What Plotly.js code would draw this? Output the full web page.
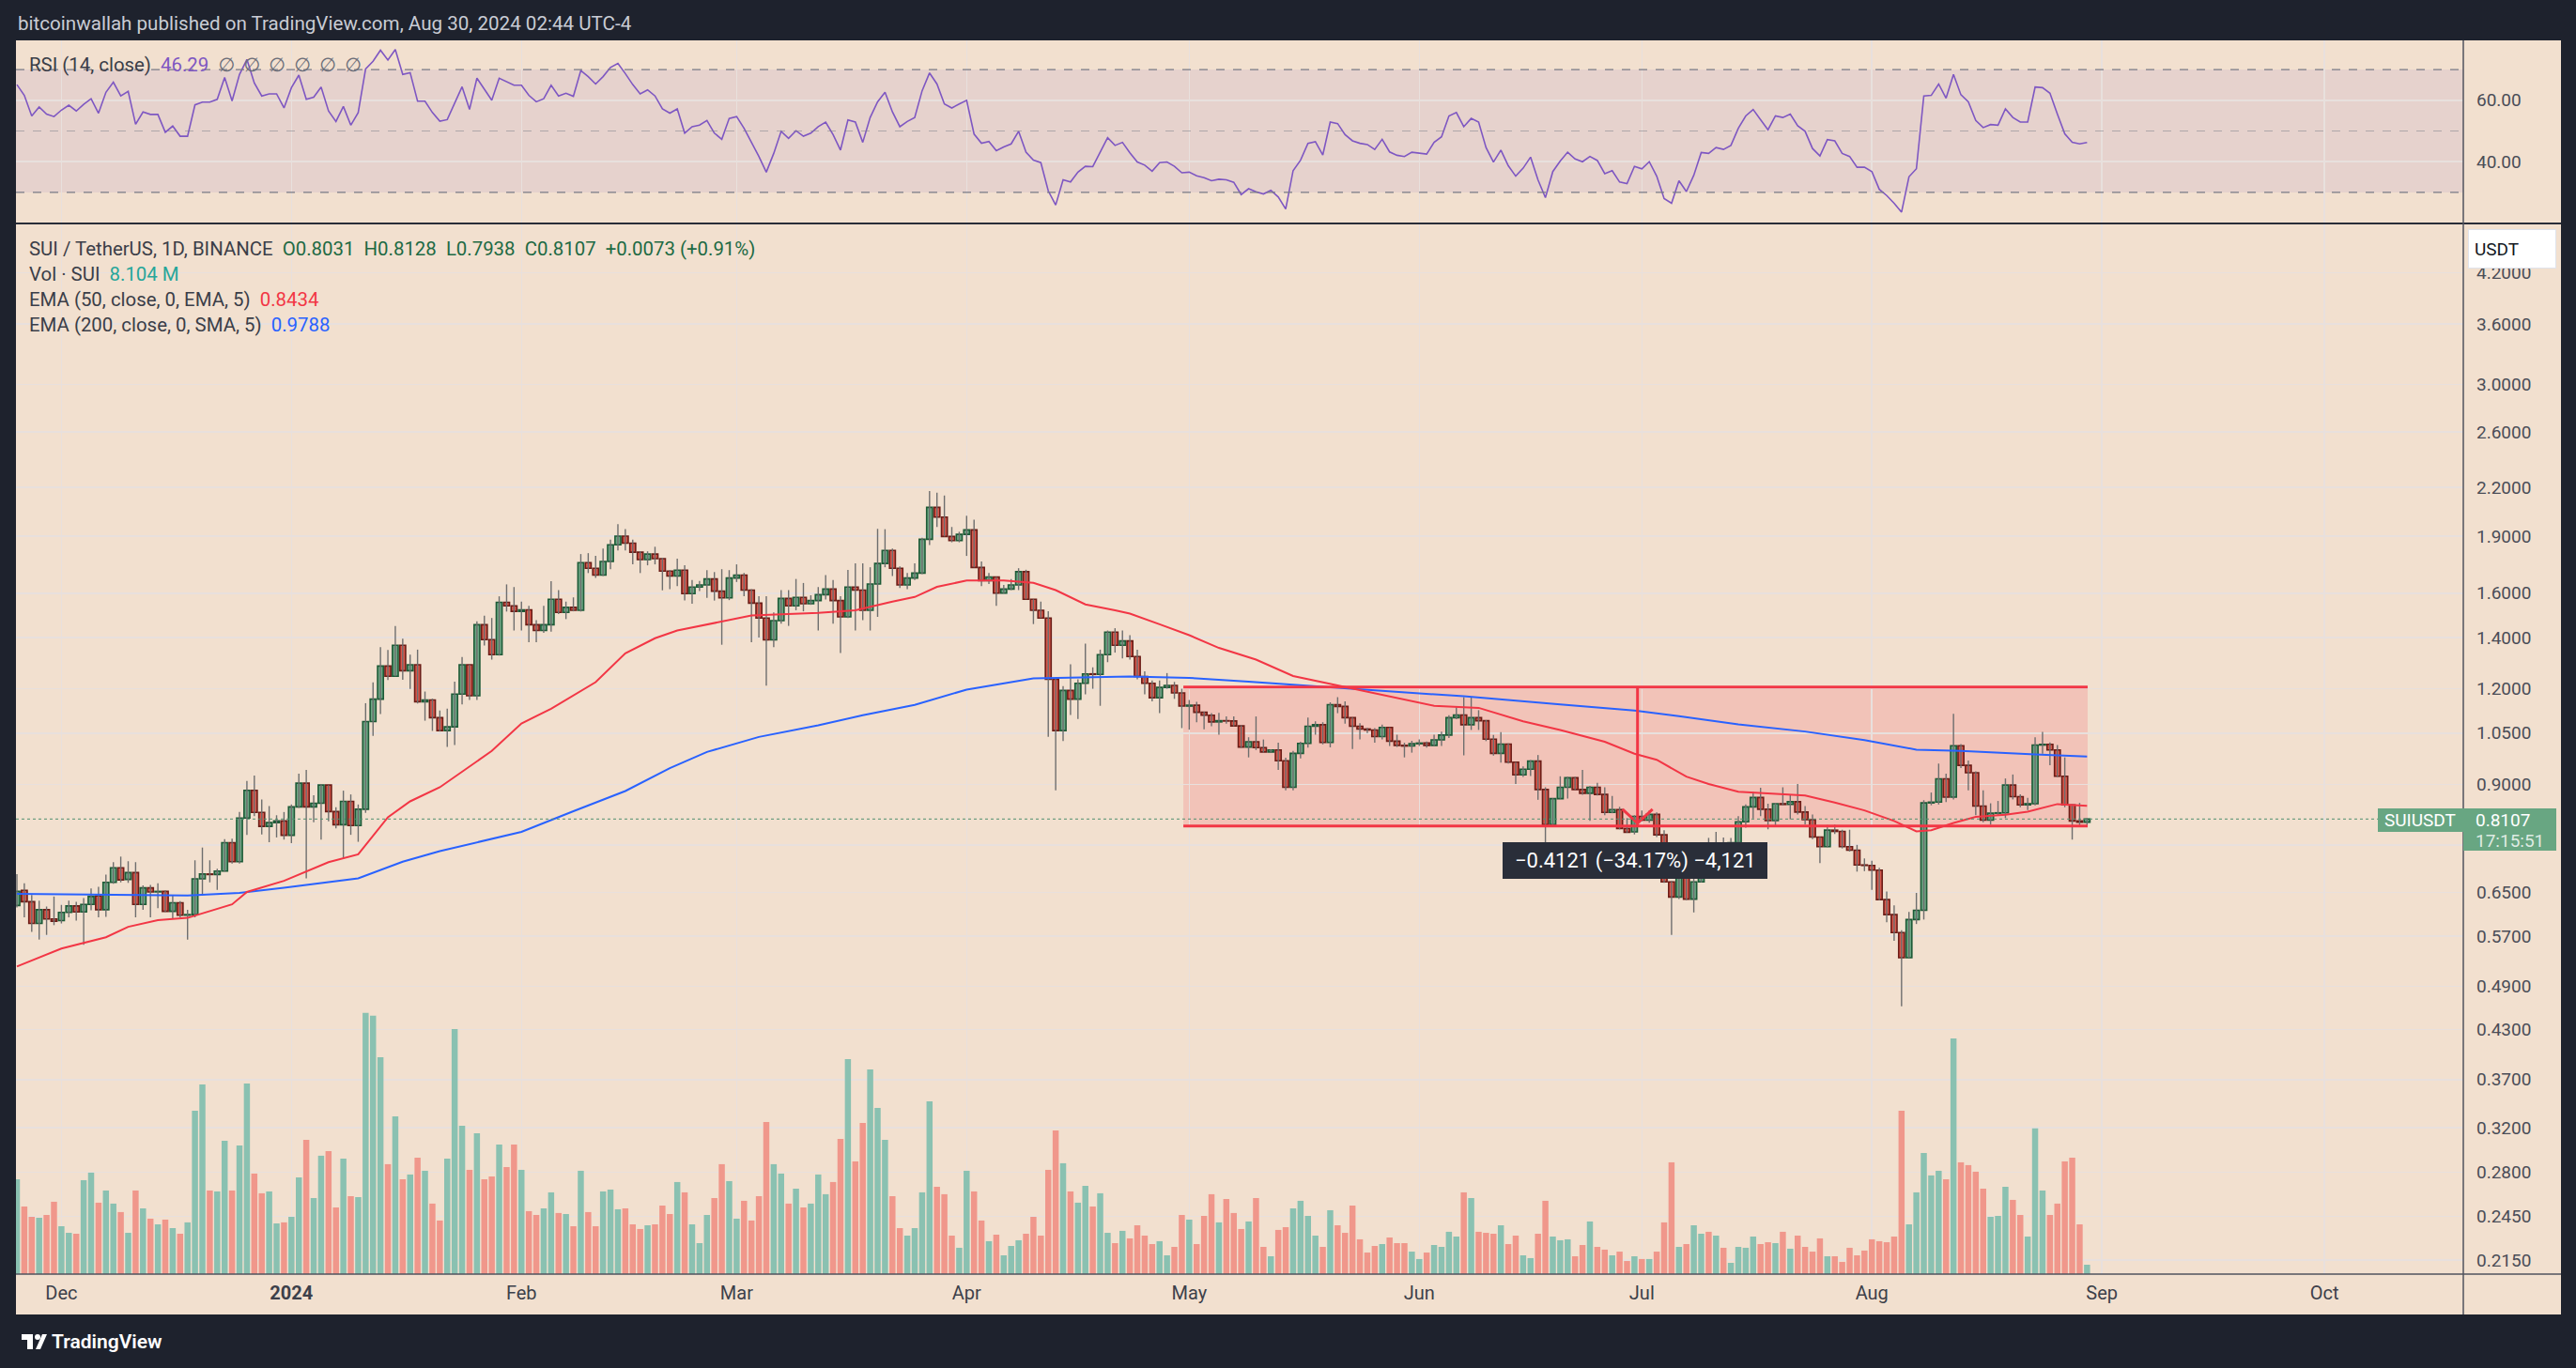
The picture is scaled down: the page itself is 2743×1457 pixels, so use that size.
<!DOCTYPE html>
<html>
<head>
<meta charset="utf-8">
<script src="https://cdn.plot.ly/plotly-3.0.1.min.js"></script>
<style>
  html, body { margin: 0; padding: 0; background: #1e222d; }
  #chart { width: 2743px; height: 1457px; }
</style>
</head>
<body>
<div id="chart"></div>
<script>
// SUI / TetherUS daily candles, 25 Nov 2023 -> 30 Aug 2024
const firstDay = '2023-11-25';

const openP = [
  0.625,0.654,0.632,0.592,0.617,0.600,0.597,0.612,0.624,0.613,
  0.627,0.643,0.617,0.670,0.700,0.676,0.690,0.627,0.659,0.651,
  0.652,0.614,0.630,0.607,0.608,0.677,0.687,0.686,0.693,0.755,
  0.713,0.813,0.884,0.827,0.793,0.802,0.806,0.772,0.841,0.903,
  0.841,0.850,0.898,0.829,0.797,0.855,0.795,0.835,1.087,1.163,
  1.285,1.246,1.368,1.267,1.290,1.154,1.160,1.100,1.058,1.070,
  1.181,1.290,1.175,1.455,1.391,1.330,1.557,1.540,1.515,1.522,
  1.455,1.430,1.455,1.571,1.510,1.533,1.520,1.754,1.725,1.690,
  1.760,1.851,1.900,1.860,1.810,1.770,1.800,1.775,1.710,1.685,
  1.715,1.598,1.630,1.640,1.670,1.610,1.578,1.675,1.690,1.615,
  1.553,1.485,1.390,1.473,1.575,1.540,1.580,1.550,1.565,1.593,
  1.620,1.565,1.490,1.630,1.615,1.520,1.645,1.750,1.820,1.725,
  1.640,1.675,1.700,1.882,2.072,2.012,1.898,1.875,1.910,1.936,
  1.729,1.662,1.680,1.600,1.620,1.640,1.707,1.571,1.520,1.485,
  1.235,1.058,1.194,1.163,1.220,1.255,1.253,1.330,1.423,1.368,
  1.386,1.322,1.245,1.220,1.168,1.205,1.212,1.185,1.139,1.142,
  1.118,1.108,1.086,1.090,1.089,1.073,1.007,1.023,1.005,0.992,
  0.998,0.966,0.892,0.988,1.018,1.072,1.077,1.021,1.144,1.138,
  1.100,1.072,1.063,1.060,1.039,1.068,1.025,1.012,1.010,1.017,
  1.019,1.012,1.029,1.044,1.100,1.109,1.077,1.100,1.090,1.031,
  0.988,1.016,0.962,0.926,0.942,0.965,0.886,0.797,0.862,0.892,
  0.918,0.886,0.876,0.892,0.873,0.827,0.834,0.788,0.780,0.817,
  0.808,0.822,0.773,0.671,0.641,0.692,0.637,0.671,0.741,0.737,
  0.753,0.745,0.755,0.804,0.841,0.865,0.835,0.807,0.849,0.847,
  0.854,0.828,0.809,0.768,0.746,0.784,0.781,0.746,0.738,0.706,
  0.705,0.695,0.636,0.608,0.576,0.534,0.599,0.616,0.851,0.853,
  0.915,0.866,1.011,0.953,0.932,0.843,0.808,0.825,0.826,0.898,
  0.867,0.846,0.849,1.013,1.015,0.998,0.922,0.846,0.806,0.8031
];
const highP = [
  0.687,0.668,0.645,0.634,0.623,0.642,0.626,0.634,0.632,0.639,
  0.658,0.661,0.686,0.712,0.724,0.714,0.712,0.664,0.665,0.668,
  0.654,0.645,0.633,0.617,0.716,0.744,0.716,0.698,0.763,0.764,
  0.828,0.909,0.924,0.860,0.843,0.820,0.828,0.847,0.929,0.940,
  0.871,0.900,0.898,0.840,0.883,0.873,0.847,1.149,1.223,1.360,
  1.349,1.449,1.395,1.330,1.350,1.190,1.165,1.124,1.130,1.226,
  1.320,1.290,1.470,1.495,1.485,1.585,1.643,1.630,1.560,1.540,
  1.475,1.540,1.659,1.615,1.560,1.580,1.800,1.805,1.790,1.830,
  1.880,1.969,1.940,1.880,1.815,1.815,1.840,1.780,1.715,1.775,
  1.740,1.665,1.660,1.715,1.705,1.720,1.715,1.745,1.700,1.620,
  1.585,1.586,1.510,1.615,1.615,1.670,1.650,1.590,1.630,1.690,
  1.665,1.585,1.716,1.750,1.750,1.730,1.942,1.940,1.830,1.735,
  1.700,1.750,1.890,2.176,2.165,2.147,1.953,1.925,2.020,1.997,
  1.760,1.700,1.680,1.640,1.670,1.725,1.717,1.571,1.560,1.515,
  1.240,1.210,1.292,1.235,1.375,1.280,1.350,1.430,1.440,1.430,
  1.410,1.350,1.265,1.230,1.230,1.258,1.225,1.200,1.160,1.154,
  1.120,1.115,1.116,1.104,1.104,1.075,1.037,1.104,1.030,1.000,
  1.020,0.975,0.995,1.023,1.100,1.088,1.085,1.152,1.170,1.155,
  1.100,1.082,1.067,1.066,1.077,1.068,1.045,1.020,1.026,1.030,
  1.024,1.045,1.055,1.108,1.135,1.170,1.170,1.125,1.092,1.044,
  1.053,1.018,0.962,0.950,0.968,0.983,0.892,0.863,0.922,0.921,
  0.921,0.940,0.896,0.904,0.892,0.869,0.841,0.813,0.820,0.832,
  0.832,0.827,0.784,0.673,0.700,0.694,0.690,0.753,0.766,0.780,
  0.767,0.766,0.818,0.847,0.880,0.891,0.849,0.851,0.892,0.871,
  0.901,0.843,0.822,0.768,0.796,0.797,0.785,0.785,0.750,0.720,
  0.715,0.700,0.652,0.625,0.580,0.613,0.649,0.858,0.878,0.958,
  0.929,1.113,1.016,0.967,0.936,0.884,0.850,0.856,0.916,0.927,
  0.873,0.864,1.037,1.054,1.021,1.013,0.976,0.848,0.851,0.8128
];
const lowP = [
  0.621,0.603,0.577,0.564,0.572,0.589,0.592,0.603,0.597,0.555,
  0.616,0.603,0.604,0.667,0.670,0.669,0.603,0.617,0.603,0.620,
  0.613,0.600,0.603,0.564,0.603,0.645,0.670,0.655,0.692,0.709,
  0.709,0.773,0.818,0.774,0.756,0.767,0.762,0.754,0.838,0.678,
  0.803,0.762,0.805,0.788,0.719,0.773,0.757,0.826,1.041,1.112,
  1.232,1.246,1.233,1.199,1.148,1.090,1.057,1.055,1.007,1.013,
  1.145,1.160,1.160,1.367,1.310,1.326,1.514,1.430,1.430,1.380,
  1.380,1.420,1.425,1.503,1.480,1.515,1.514,1.700,1.675,1.685,
  1.720,1.820,1.820,1.745,1.700,1.740,1.745,1.614,1.620,1.635,
  1.565,1.550,1.610,1.578,1.565,1.370,1.567,1.655,1.585,1.380,
  1.400,1.211,1.360,1.460,1.450,1.520,1.515,1.545,1.430,1.570,
  1.460,1.336,1.485,1.430,1.475,1.430,1.490,1.730,1.685,1.625,
  1.620,1.665,1.695,1.850,1.953,1.898,1.865,1.865,1.790,1.729,
  1.635,1.645,1.540,1.600,1.615,1.615,1.571,1.458,1.485,1.038,
  0.884,1.025,1.109,1.096,1.180,1.200,1.140,1.300,1.338,1.315,
  1.310,1.235,1.180,1.155,1.115,1.200,1.164,1.066,1.061,1.085,
  1.062,1.072,1.045,1.080,1.072,1.004,0.976,0.998,0.990,0.990,
  0.940,0.884,0.884,0.973,1.005,1.045,1.015,1.006,1.115,1.080,
  1.001,1.030,1.050,1.020,1.030,1.010,1.007,0.976,0.990,1.010,
  1.005,1.010,1.010,1.035,1.095,0.982,1.060,1.060,1.025,0.981,
  0.961,0.958,0.901,0.920,0.923,0.859,0.753,0.794,0.862,0.862,
  0.885,0.872,0.806,0.870,0.820,0.825,0.786,0.778,0.774,0.805,
  0.802,0.768,0.669,0.572,0.637,0.635,0.612,0.670,0.735,0.735,
  0.735,0.744,0.755,0.790,0.812,0.818,0.786,0.795,0.845,0.810,
  0.822,0.798,0.763,0.710,0.745,0.775,0.742,0.735,0.692,0.693,
  0.655,0.635,0.594,0.562,0.4615,0.534,0.591,0.599,0.845,0.847,
  0.853,0.860,0.945,0.884,0.820,0.803,0.797,0.820,0.813,0.860,
  0.840,0.833,0.845,0.987,0.953,0.920,0.840,0.762,0.792,0.7938
];
const closeP = [
  0.652,0.632,0.592,0.617,0.600,0.596,0.612,0.624,0.613,0.627,
  0.642,0.617,0.670,0.700,0.675,0.690,0.627,0.659,0.651,0.652,
  0.614,0.630,0.607,0.608,0.677,0.687,0.686,0.693,0.755,0.713,
  0.813,0.884,0.827,0.793,0.802,0.806,0.772,0.841,0.903,0.841,
  0.850,0.898,0.829,0.797,0.855,0.795,0.835,1.087,1.163,1.285,
  1.246,1.368,1.267,1.290,1.154,1.160,1.100,1.058,1.070,1.181,
  1.290,1.175,1.455,1.391,1.330,1.557,1.540,1.515,1.522,1.455,
  1.430,1.455,1.571,1.510,1.533,1.520,1.754,1.725,1.690,1.760,
  1.851,1.900,1.860,1.810,1.770,1.800,1.775,1.710,1.685,1.715,
  1.598,1.630,1.640,1.670,1.610,1.578,1.675,1.690,1.615,1.553,
  1.485,1.390,1.473,1.575,1.540,1.580,1.550,1.565,1.593,1.620,
  1.565,1.490,1.630,1.615,1.520,1.645,1.750,1.820,1.725,1.640,
  1.675,1.700,1.882,2.072,2.012,1.898,1.875,1.910,1.936,1.729,
  1.662,1.680,1.600,1.620,1.640,1.707,1.571,1.520,1.485,1.235,
  1.058,1.194,1.163,1.220,1.255,1.253,1.330,1.423,1.368,1.386,
  1.322,1.245,1.220,1.168,1.205,1.212,1.185,1.139,1.142,1.118,
  1.108,1.086,1.090,1.089,1.073,1.007,1.023,1.005,0.992,0.998,
  0.966,0.892,0.988,1.018,1.072,1.077,1.021,1.144,1.138,1.100,
  1.072,1.063,1.060,1.039,1.068,1.025,1.012,1.010,1.017,1.019,
  1.012,1.029,1.044,1.100,1.109,1.077,1.100,1.090,1.031,0.988,
  1.016,0.962,0.926,0.942,0.965,0.886,0.797,0.862,0.892,0.918,
  0.886,0.876,0.892,0.873,0.827,0.834,0.788,0.779,0.817,0.808,
  0.822,0.773,0.671,0.641,0.692,0.637,0.671,0.741,0.737,0.753,
  0.745,0.755,0.804,0.841,0.865,0.835,0.807,0.849,0.847,0.854,
  0.828,0.809,0.768,0.746,0.784,0.781,0.746,0.738,0.706,0.705,
  0.695,0.636,0.608,0.576,0.534,0.599,0.616,0.851,0.853,0.915,
  0.866,1.011,0.953,0.932,0.843,0.808,0.825,0.826,0.898,0.867,
  0.846,0.849,1.013,1.015,0.998,0.922,0.846,0.806,0.803,0.8107
];
// volume, millions of SUI
const volume = [
  81.8,58.3,49.4,48.6,51.0,62.4,41.3,35.6,34.8,81.0,
  87.5,61.6,72.1,60.8,53.5,35.6,72.1,56.7,47.8,42.9,
  47.0,39.7,34.8,44.6,140.9,163.6,72.1,71.3,115.0,72.1,
  111.0,164.4,86.7,69.7,71.3,43.7,44.6,49.4,83.4,115.8,
  65.6,102.1,106.1,57.5,99.6,67.2,66.4,225.2,222.8,187.1,
  94.8,136.1,81.8,85.9,100.4,89.1,60.8,46.2,99.6,211.4,
  128.0,89.9,121.5,81.8,84.2,111.8,92.3,111.8,89.9,54.3,
  51.0,56.7,70.5,52.7,51.8,41.3,89.1,53.5,41.3,71.3,
  72.9,55.9,56.7,42.9,38.9,42.1,42.9,59.1,51.8,79.4,
  70.5,42.9,26.7,51.0,65.6,94.8,80.2,47.8,63.2,46.2,
  67.2,131.2,94.8,86.7,60.8,73.7,57.5,60.8,85.9,68.9,
  79.4,116.6,185.5,97.2,130.4,176.6,143.4,115.8,67.2,39.7,
  33.2,39.7,70.5,149.0,75.3,68.9,33.2,22.7,89.1,71.3,
  46.2,28.4,34.0,16.2,24.3,29.2,34.8,49.4,33.2,89.9,
  123.9,95.6,71.3,61.6,76.1,58.3,69.7,35.6,26.7,37.3,
  30.8,42.1,33.2,25.9,28.4,16.2,23.5,51.0,47.0,25.9,
  50.2,68.9,44.6,64.8,52.7,38.9,45.4,65.6,23.5,15.4,
  38.1,40.5,56.7,63.2,50.2,33.2,23.5,55.1,42.1,35.6,
  59.1,30.0,18.6,24.3,25.9,31.6,26.7,26.7,19.4,13.0,
  18.6,25.1,23.5,36.5,32.4,70.5,65.6,36.5,35.6,34.8,
  42.1,25.9,33.2,16.2,13.8,34.8,63.2,32.4,29.2,30.0,
  15.4,25.1,45.4,23.5,21.1,16.2,19.4,11.3,15.4,13.0,
  13.0,19.4,44.6,96.4,23.5,25.9,42.1,34.8,36.5,33.2,
  22.7,9.7,23.5,22.7,32.4,25.9,27.5,26.7,36.5,21.9,
  33.2,23.5,19.4,30.8,15.4,15.4,10.5,22.7,16.2,20.3,
  30.0,28.4,27.5,32.4,140.9,42.9,70.5,104.5,85.1,89.1,
  81.8,203.3,96.4,94.0,88.3,73.7,49.4,50.2,75.3,64.0,
  51.0,32.4,125.6,72.1,51.0,60.8,97.2,100.4,42.9,8.1
];
// RSI (14, close)
const rsi = [
  65.1,61.6,54.9,57.8,55.5,54.7,56.8,58.4,56.5,58.7,
  60.5,55.8,62.6,65.9,61.4,62.9,52.2,56.2,55.4,55.4,
  49.6,51.6,48.3,48.3,58.5,59.4,59.4,60.3,67.4,59.8,
  68.4,73.3,65.6,61.4,62.1,62.1,57.5,64.1,68.2,60.3,
  61.0,64.3,56.5,53.1,58.0,51.9,56.0,70.2,72.7,76.3,
  73.1,76.5,68.4,69.0,59.7,59.7,56.0,53.2,53.7,59.2,
  64.4,57.0,67.2,63.6,60.0,67.2,66.1,64.9,64.9,61.6,
  59.5,60.5,64.9,61.4,62.3,61.3,69.7,67.7,65.3,67.7,
  70.7,72.0,68.7,65.1,62.1,63.4,61.4,57.2,55.8,57.2,
  49.3,51.4,51.9,53.4,49.3,47.3,54.1,54.7,50.9,46.3,
  41.7,36.6,42.7,49.9,47.6,50.1,48.3,49.3,51.4,52.9,
  48.8,43.8,53.6,52.9,46.3,54.4,59.5,62.6,56.2,51.4,
  53.1,54.4,63.1,68.9,65.3,58.8,57.5,58.8,60.0,49.0,
  46.0,46.6,43.6,44.8,45.8,49.9,43.1,40.5,39.7,30.5,
  25.9,34.1,33.4,36.6,38.5,38.4,42.9,47.8,45.3,46.3,
  42.9,39.9,38.9,36.9,39.7,39.9,38.5,36.4,36.6,35.4,
  34.8,33.8,34.3,34.1,33.3,29.3,31.2,30.2,29.5,30.7,
  28.5,24.6,37.1,40.5,46.0,46.5,42.2,52.9,52.4,48.8,
  46.8,46.0,45.6,44.0,47.3,43.2,42.1,41.7,43.1,42.9,
  42.5,46.3,48.1,54.9,56.0,51.4,54.1,52.9,44.6,39.9,
  43.8,38.7,35.3,37.9,41.5,34.1,28.3,36.8,40.2,43.1,
  40.9,40.0,41.7,40.4,36.1,37.1,33.4,32.9,38.5,37.7,
  40.0,35.3,28.0,26.5,33.8,30.3,35.6,43.0,42.7,44.6,
  44.0,45.3,50.9,54.9,57.0,53.7,50.4,54.9,54.4,55.5,
  51.7,49.9,44.3,41.9,47.2,46.8,42.7,41.7,38.2,38.2,
  36.8,31.0,29.0,26.5,23.6,35.1,37.7,61.4,61.6,65.3,
  60.7,68.4,61.8,59.5,53.4,51.1,52.1,51.9,57.2,54.4,
  52.9,52.9,64.3,64.1,62.3,55.5,49.1,46.3,45.8,46.29
];

// EMA 50 (red), read at intervals along the line
const ema50Dates = ['2023-11-25','2023-12-01','2023-12-07','2023-12-10','2023-12-14','2023-12-18','2023-12-24','2023-12-26','2023-12-31','2024-01-03','2024-01-06','2024-01-10','2024-01-12','2024-01-14','2024-01-17','2024-01-21','2024-01-28','2024-02-01','2024-02-05','2024-02-08','2024-02-11','2024-02-15','2024-02-19','2024-02-22','2024-02-28','2024-03-03','2024-03-12','2024-03-17','2024-03-22','2024-03-25','2024-03-28','2024-04-01','2024-04-06','2024-04-10','2024-04-13','2024-04-17','2024-04-21','2024-04-23','2024-04-27','2024-05-01','2024-05-05','2024-05-10','2024-05-15','2024-05-19','2024-05-25','2024-06-03','2024-06-09','2024-06-15','2024-06-20','2024-06-26','2024-06-30','2024-07-03','2024-07-07','2024-07-10','2024-07-14','2024-07-19','2024-07-23','2024-07-27','2024-07-31','2024-08-04','2024-08-07','2024-08-09','2024-08-12','2024-08-15','2024-08-19','2024-08-22','2024-08-26','2024-08-30'];
const ema50Vals = [0.520,0.549,0.568,0.586,0.598,0.602,0.627,0.651,0.673,0.692,0.712,0.729,0.771,0.815,0.855,0.892,0.995,1.081,1.130,1.176,1.224,1.335,1.397,1.430,1.470,1.496,1.508,1.520,1.560,1.582,1.631,1.662,1.662,1.651,1.615,1.547,1.520,1.505,1.457,1.410,1.357,1.310,1.247,1.224,1.190,1.140,1.133,1.088,1.060,1.023,0.987,0.969,0.921,0.901,0.880,0.874,0.870,0.852,0.832,0.806,0.781,0.784,0.801,0.816,0.821,0.829,0.848,0.8434];

// EMA 200 (blue)
const ema200Dates = ['2023-11-25','2023-12-18','2023-12-25','2023-12-31','2024-01-10','2024-01-16','2024-01-21','2024-02-01','2024-02-08','2024-02-15','2024-02-21','2024-02-26','2024-03-04','2024-03-12','2024-03-18','2024-03-25','2024-04-01','2024-04-10','2024-04-23','2024-05-01','2024-05-09','2024-05-23','2024-06-07','2024-06-20','2024-06-30','2024-07-06','2024-07-14','2024-07-23','2024-07-31','2024-08-07','2024-08-13','2024-08-23','2024-08-30'];
const ema200Vals = [0.647,0.644,0.649,0.659,0.678,0.713,0.736,0.780,0.830,0.882,0.945,0.992,1.038,1.075,1.108,1.143,1.197,1.238,1.245,1.240,1.226,1.199,1.173,1.145,1.124,1.105,1.078,1.055,1.028,0.999,0.995,0.985,0.9788];

const priceTicks = [0.215,0.245,0.28,0.32,0.37,0.43,0.49,0.57,0.65,0.75,0.9,1.05,1.2,1.4,1.6,1.9,2.2,2.6,3.0,3.6,4.2];
const monthTicks = ['2023-12-01','2024-01-01','2024-02-01','2024-03-01','2024-04-01','2024-05-01','2024-06-01','2024-07-01','2024-08-01','2024-09-01','2024-10-01'];
const monthLabels = ['Dec','<b>2024</b>','Feb','Mar','Apr','May','Jun','Jul','Aug','Sep','Oct'];

// measure tool drawn on the chart
const boxTop = 1.2058, boxBottom = 0.7937, lastPrice = 0.8107;

// ---- helpers: page pixels -> paper coords (plot box is x 17..2623, y 43..1357)
function px(x) { return (x - 17) / 2606; }
function py(y) { return (1357 - y) / 1314; }
const lg = Math.log10;

const dates = [];
const t0 = Date.parse(firstDay + 'T00:00:00Z');
for (let i = 0; i < openP.length; i++) {
  dates.push(new Date(t0 + i * 864e5).toISOString().slice(0, 10));
}

const up = closeP.map((c, i) => c >= openP[i]);
const wickX = [], wickY = [];
dates.forEach((d, i) => { wickX.push(d, d, null); wickY.push(lowP[i], highP[i], null); });
const bodyBase = openP.map((o, i) => Math.min(o, closeP[i]));
const bodySize = openP.map((o, i) => Math.abs(closeP[i] - o));

const grid = '#e8e0dd';
const axisText = '#4a4d57';
const bg = '#f2e0cf';
const dark = '#1e222d';
const red = '#f23645';

const traces = [
  { type: 'bar', x: dates, y: volume, yaxis: 'y3', width: 0.82 * 864e5,
    marker: { color: up.map(u => u ? '#8ac1b1' : '#f0978b'), line: { width: 0 } } },
  { type: 'scatter', mode: 'lines', x: wickX, y: wickY, connectgaps: false,
    line: { color: '#6e6e6e', width: 1.4 } },
  { type: 'bar', x: dates, y: bodySize, base: bodyBase, width: 0.78 * 864e5,
    marker: { color: up.map(u => u ? '#6ba683' : '#d8564a'),
              line: { color: up.map(u => u ? '#1d5a37' : '#6b1d17'), width: 1.6 } } },
  { type: 'scatter', mode: 'lines', x: ema200Dates, y: ema200Vals,
    line: { color: '#2962ff', width: 2 } },
  { type: 'scatter', mode: 'lines', x: ema50Dates, y: ema50Vals,
    line: { color: red, width: 2 } },
  { type: 'scatter', mode: 'lines', x: dates, y: rsi, xaxis: 'x2', yaxis: 'y2',
    line: { color: '#7e57c2', width: 1.6 } }
];

const boxL = '2024-04-30 05:00', boxR = '2024-08-30 02:00', vLine = '2024-06-30 10:00';
const shapes = [
  // RSI band and levels
  { type: 'rect', xref: 'paper', yref: 'y2', x0: 0, x1: 1, y0: 30, y1: 70,
    fillcolor: 'rgba(126,87,194,0.10)', line: { width: 0 }, layer: 'below' },
  { type: 'line', xref: 'paper', yref: 'y2', x0: 0, x1: 1, y0: 70, y1: 70, line: { color: '#787b86', width: 1.2, dash: 'dash' } },
  { type: 'line', xref: 'paper', yref: 'y2', x0: 0, x1: 1, y0: 50, y1: 50, line: { color: 'rgba(120,123,134,0.5)', width: 1.2, dash: 'dash' } },
  { type: 'line', xref: 'paper', yref: 'y2', x0: 0, x1: 1, y0: 30, y1: 30, line: { color: '#787b86', width: 1.2, dash: 'dash' } },
  // measure box (price values on the log axis)
  { type: 'rect', xref: 'x', yref: 'y', x0: boxL, x1: boxR, y0: boxBottom, y1: boxTop,
    fillcolor: 'rgba(242,54,69,0.17)', line: { width: 0 }, layer: 'below' },
  { type: 'line', xref: 'x', yref: 'y', x0: boxL, x1: boxR, y0: boxTop, y1: boxTop, line: { color: red, width: 3 } },
  { type: 'line', xref: 'x', yref: 'y', x0: boxL, x1: boxR, y0: boxBottom, y1: boxBottom, line: { color: red, width: 3 } },
  { type: 'line', xref: 'x', yref: 'y', x0: vLine, x1: vLine, y0: boxTop, y1: boxBottom, line: { color: red, width: 3 } },
  { type: 'path', xref: 'x', yref: 'y', xsizemode: 'pixel', ysizemode: 'pixel',
    xanchor: vLine, yanchor: boxBottom, path: 'M -16 18 L 0 3 L 16 18',
    line: { color: red, width: 3 } },
  // last price dotted line
  { type: 'line', xref: 'paper', yref: 'y', x0: 0, x1: 1, y0: lastPrice, y1: lastPrice,
    line: { color: '#4f8f6e', width: 1, dash: 'dot' } },
  // pane separators
  { type: 'line', xref: 'paper', yref: 'paper', x0: px(17), x1: px(2727), y0: py(238), y1: py(238), line: { color: '#2a2e39', width: 2 } },
  { type: 'line', xref: 'paper', yref: 'paper', x0: px(17), x1: px(2727), y0: py(1357), y1: py(1357), line: { color: '#50535e', width: 1.5 } },
  { type: 'line', xref: 'paper', yref: 'paper', x0: px(2623), x1: px(2623), y0: py(43), y1: py(1400), line: { color: '#50535e', width: 1.5 } },
  // dark frame
  { type: 'rect', xref: 'paper', yref: 'paper', x0: px(0), x1: px(2743), y0: py(43), y1: py(0), fillcolor: dark, line: { width: 0 }, layer: 'above' },
  { type: 'rect', xref: 'paper', yref: 'paper', x0: px(0), x1: px(2743), y0: py(1457), y1: py(1400), fillcolor: dark, line: { width: 0 }, layer: 'above' },
  { type: 'rect', xref: 'paper', yref: 'paper', x0: px(0), x1: px(17), y0: py(1457), y1: py(0), fillcolor: dark, line: { width: 0 }, layer: 'above' },
  { type: 'rect', xref: 'paper', yref: 'paper', x0: px(2727), x1: px(2743), y0: py(1457), y1: py(0), fillcolor: dark, line: { width: 0 }, layer: 'above' },
  // last price labels
  { type: 'rect', xref: 'paper', yref: 'paper', x0: px(2532), x1: px(2623), y0: py(886), y1: py(861), fillcolor: '#68a682', line: { width: 0 }, layer: 'above' },
  { type: 'rect', xref: 'paper', yref: 'paper', x0: px(2623), x1: px(2722), y0: py(906), y1: py(861), fillcolor: '#68a682', line: { width: 0 }, layer: 'above' },
  // measure label background
  { type: 'rect', xref: 'paper', yref: 'paper', x0: px(1600), x1: px(1882), y0: py(936), y1: py(897), fillcolor: '#2a2e39', line: { width: 0 }, layer: 'above' },
  // TradingView logo mark
  { type: 'path', xref: 'paper', yref: 'paper', xsizemode: 'pixel', ysizemode: 'pixel',
    xanchor: px(23), yanchor: py(1429), path: 'M 0 8 H 12 V -8 H 6 V 2 H 0 Z', fillcolor: '#ffffff', line: { width: 0 }, layer: 'above' },
  { type: 'circle', xref: 'paper', yref: 'paper', xsizemode: 'pixel', ysizemode: 'pixel',
    xanchor: px(23), yanchor: py(1429), x0: 14, x1: 20, y0: 2, y1: 8, fillcolor: '#ffffff', line: { width: 0 }, layer: 'above' },
  { type: 'path', xref: 'paper', yref: 'paper', xsizemode: 'pixel', ysizemode: 'pixel',
    xanchor: px(23), yanchor: py(1429), path: 'M 15 -8 L 22 8 H 27 L 20 -8 Z', fillcolor: '#ffffff', line: { width: 0 }, layer: 'above' }
];

const nb = '\u00a0';
const gap = nb + '\u2009';
const legendColor = '#3b3e48';
function note(x, y, text, size, color, anchor) {
  return { xref: 'paper', yref: 'paper', x: px(x), y: py(y), text: text, showarrow: false,
           xanchor: anchor || 'left', yanchor: 'middle', font: { size: size, color: color } };
}
const empties = ['\u2205', '\u2205', '\u2205', '\u2205', '\u2205', '\u2205'].join(gap);
const annotations = [
  note(17, 25, 'bitcoinwallah published on TradingView.com, Aug 30, 2024 02:44 UTC-4', 20.6, '#c9ccd4'),
  note(29, 69, 'RSI (14, close)' + nb + nb + '<span style="color:#7e57c2">46.29</span>' + nb + nb +
       '<span style="color:#6a6d78">' + empties + '</span>', 20.4, legendColor),
  note(29, 265, 'SUI / TetherUS, 1D, BINANCE' + nb + nb + '<span style="color:#1e6a44">O0.8031' + nb + nb + 'H0.8128' + nb + nb +
       'L0.7938' + nb + nb + 'C0.8107' + nb + nb + '+0.0073 (+0.91%)</span>', 20.4, legendColor),
  note(29, 292, 'Vol \u00b7 SUI' + nb + nb + '<span style="color:#26a69a">8.104' + nb + 'M</span>', 20.4, legendColor),
  note(29, 319, 'EMA (50, close, 0, EMA, 5)' + nb + nb + '<span style="color:#f23645">0.8434</span>', 20.4, legendColor),
  note(29, 346, 'EMA (200, close, 0, SMA, 5)' + nb + nb + '<span style="color:#2962ff">0.9788</span>', 20.4, legendColor),
  Object.assign(note(2628, 265, 'USDT', 19, '#131722'),
    { bgcolor: '#ffffff', bordercolor: '#e0e3eb', borderwidth: 1, borderpad: 6, width: 80, height: 28, align: 'left' }),
  note(2577, 874, 'SUIUSDT', 19, '#ffffff', 'center'),
  note(2634, 874, '0.8107', 19, '#ffffff'),
  note(2634, 895, '17:15:51', 19, 'rgba(255,255,255,0.8)'),
  note(1741, 917, '\u22120.4121 (\u221234.17%) \u22124,121', 22, '#ffffff', 'center'),
  Object.assign(note(53, 1429, 'TradingView', 21, '#ffffff'), { font: { size: 21, color: '#ffffff', weight: 600 } })
];

const layout = {
  width: 2743, height: 1457,
  margin: { l: 17, r: 120, t: 43, b: 100, pad: 0 },
  paper_bgcolor: bg, plot_bgcolor: bg,
  font: { family: 'Roboto, "DejaVu Sans", sans-serif', size: 19, color: axisText },
  showlegend: false, hovermode: false, barmode: 'overlay',
  xaxis: {
    type: 'date', domain: [0, 1], anchor: 'y',
    range: ['2023-11-24 21:00', '2024-10-19 17:00'],
    tickmode: 'array', tickvals: monthTicks, ticktext: monthLabels,
    showgrid: true, gridcolor: grid, gridwidth: 1.5, zeroline: false, showline: false,
    ticks: '', ticklabelstandoff: 6, tickfont: { size: 20, color: '#3d404a' }
  },
  xaxis2: {
    type: 'date', domain: [0, 1], anchor: 'y2', matches: 'x',
    tickmode: 'array', tickvals: monthTicks, showticklabels: false,
    showgrid: true, gridcolor: grid, gridwidth: 1.5, zeroline: false, showline: false, ticks: ''
  },
  yaxis: {
    type: 'log', domain: [0, py(238)], anchor: 'x', side: 'right',
    range: [lg(0.206), lg(4.87)],
    tickmode: 'array', tickvals: priceTicks,
    ticktext: priceTicks.map(v => v === 0.75 ? '' : v.toFixed(4)),
    showgrid: true, gridcolor: grid, gridwidth: 1.5, zeroline: false, showline: false,
    ticks: '', ticklabelstandoff: 13, tickfont: { size: 19, color: axisText }
  },
  yaxis2: {
    domain: [py(238), 1], anchor: 'x2', side: 'right', range: [19.9, 79.5],
    tickmode: 'array', tickvals: [40, 60], ticktext: ['40.00', '60.00'],
    showgrid: true, gridcolor: grid, gridwidth: 1.5, zeroline: false, showline: false,
    ticks: '', ticklabelstandoff: 13, tickfont: { size: 19, color: axisText }
  },
  yaxis3: { overlaying: 'y', anchor: 'x', range: [0, 906], visible: false, showgrid: false, zeroline: false },
  shapes: shapes,
  annotations: annotations
};

Plotly.newPlot('chart', traces, layout, { displayModeBar: false, staticPlot: true });
</script>
</body>
</html>
